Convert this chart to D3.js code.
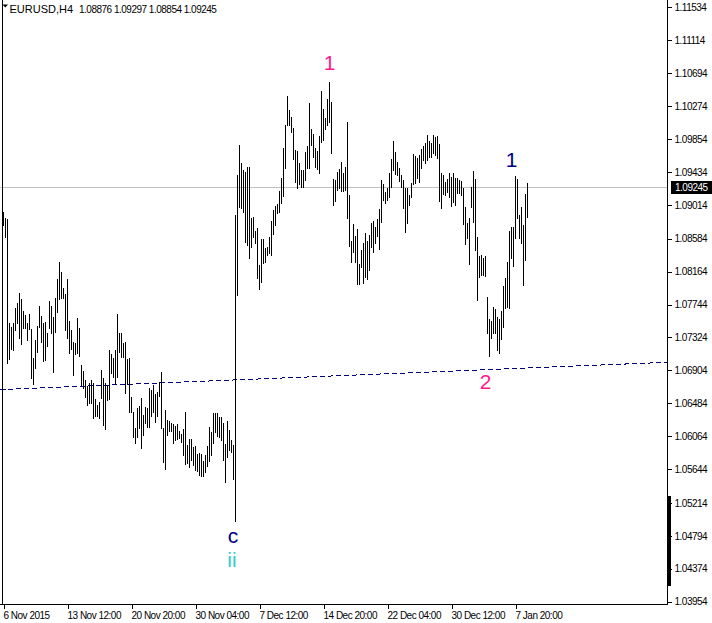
<!DOCTYPE html>
<html><head><meta charset="utf-8">
<script src="https://cdn.jsdelivr.net/npm/d3@7"></script>
<style>html,body{margin:0;padding:0;background:#fff;overflow:hidden}</style>
</head><body><div id="chart"></div>
<script>
// ---- data ----
const symbol = "EURUSD,H4";
const lastOHLC = ["1.08876", "1.09297", "1.08854", "1.09245"];
const highs = [
1.08924,1.08847,1.08834,1.07508,1.07457,1.07508,1.07699,1.07763,1.07891,1.07814,
1.07661,1.07610,1.07508,1.07623,1.07432,1.07062,1.07291,1.07470,1.07725,1.07597,
1.07508,1.07521,1.07381,1.07789,1.07725,1.07585,1.07827,1.08069,1.08286,1.08159,
1.07954,1.07878,1.08069,1.07534,1.07419,1.07266,1.07253,1.07572,1.07444,1.06973,
1.06896,1.06781,1.06705,1.06743,1.06781,1.06743,1.06539,1.06462,1.06501,1.06909,
1.06807,1.06743,1.06718,1.07164,1.07113,1.07062,1.07164,1.07623,1.07381,1.07381,
1.07253,1.07266,1.07049,1.07062,1.06564,1.06373,1.06169,1.06424,1.06450,1.06552,
1.06335,1.06437,1.06424,1.06679,1.06654,1.06718,1.06603,1.06628,1.06756,1.06883,
1.06169,1.06399,1.06271,1.06258,1.06233,1.06220,1.06195,1.06220,1.06131,1.06093,
1.06156,1.06373,1.05952,1.06029,1.06029,1.05927,1.05940,1.05838,1.05850,1.05838,
1.05748,1.05825,1.05940,1.06182,1.06118,1.06360,1.06360,1.06360,1.06309,1.06309,
1.06233,1.05965,1.06258,1.06144,1.06016,1.05952,1.08885,1.09395,1.09778,1.09548,
1.09459,1.09434,1.09497,1.09497,1.08847,1.08860,1.08681,1.08720,1.08248,1.08579,
1.08579,1.08465,1.08477,1.08605,1.08809,1.08949,1.09000,1.09026,1.09191,1.09357,
1.09740,1.10033,1.10403,1.10224,1.10135,1.09995,1.09714,1.09701,1.09548,1.09459,
1.09459,1.09689,1.09765,1.10314,1.09982,1.09918,1.09740,1.09701,1.09893,1.10467,
1.10237,1.10122,1.10365,1.10581,1.10326,1.09344,1.09332,1.09434,1.09472,1.09561,
1.09421,1.09497,1.10071,1.09140,1.08554,1.08771,1.08618,1.08707,1.08261,1.08439,
1.08528,1.08656,1.08554,1.08630,1.08783,1.08809,1.08732,1.08834,1.08962,1.09332,
1.09281,1.09179,1.09230,1.09421,1.09599,1.09829,1.09689,1.09561,1.09485,1.09395,
1.09332,1.09230,1.09230,1.09140,1.09293,1.09663,1.09638,1.09612,1.09650,1.09727,
1.09765,1.09804,1.09906,1.09829,1.09804,1.09906,1.09880,1.09893,1.09791,1.09421,
1.09395,1.09306,1.09344,1.09421,1.09370,1.09421,1.09357,1.09357,1.09332,1.09319,
1.09230,1.08987,1.08783,1.08847,1.09242,1.09446,1.09344,1.08605,1.08363,1.08375,
1.08337,1.08363,1.07840,1.07559,1.07534,1.07712,1.07687,1.07585,1.07559,1.07661,
1.07980,1.08082,1.08286,1.08681,1.08732,1.08732,1.09383,1.09344,1.08885,1.08987,
1.08758,1.09153,1.09297];
const lows = [
1.08758,1.08605,1.06998,1.07049,1.07177,1.07164,1.07419,1.07508,1.07317,1.07240,
1.07444,1.07444,1.07291,1.07432,1.06807,1.06730,1.06934,1.07138,1.07457,1.07266,
1.07024,1.07036,1.07215,1.07444,1.07381,1.06883,1.07393,1.07648,1.07814,1.07827,
1.07827,1.07419,1.07317,1.07126,1.07177,1.06845,1.07113,1.07126,1.07087,1.06718,
1.06679,1.06564,1.06462,1.06488,1.06488,1.06297,1.06322,1.06322,1.06297,1.06552,
1.06207,1.06156,1.06526,1.06539,1.06871,1.06820,1.06743,1.06820,1.07138,1.07075,
1.07075,1.06615,1.06730,1.06373,1.06373,1.06054,1.05978,1.06054,1.06169,1.05914,
1.06080,1.06233,1.06182,1.06182,1.06322,1.06373,1.06246,1.06322,1.06577,1.06169,
1.05736,1.05646,1.06080,1.06131,1.06131,1.05978,1.06016,1.06029,1.06042,1.05991,
1.05825,1.05710,1.05723,1.05672,1.05761,1.05697,1.05634,1.05621,1.05570,1.05557,
1.05557,1.05608,1.05685,1.05748,1.05825,1.05978,1.06118,1.06067,1.06054,1.06016,
1.05761,1.05481,1.05799,1.05889,1.05863,1.05519,1.04983,1.07865,1.08987,1.08975,
1.08924,1.08541,1.08503,1.08337,1.08477,1.08605,1.08528,1.08082,1.07942,1.08031,
1.08273,1.08286,1.08375,1.08401,1.08375,1.08643,1.08758,1.08911,1.08924,1.09038,
1.09128,1.09485,1.10033,1.10033,1.09944,1.09599,1.09306,1.09230,1.09281,1.09242,
1.09242,1.09332,1.09485,1.09485,1.09778,1.09625,1.09497,1.09472,1.09421,1.09816,
1.09842,1.09982,1.10033,1.10071,1.09676,1.09013,1.09064,1.09204,1.09230,1.09191,
1.09191,1.09204,1.08847,1.08490,1.08286,1.08414,1.08286,1.08005,1.08005,1.08222,
1.08018,1.08095,1.08069,1.08184,1.08477,1.08414,1.08528,1.08618,1.08452,1.08796,
1.09077,1.09038,1.09077,1.09115,1.09242,1.09459,1.09408,1.09395,1.09319,1.09242,
1.08975,1.08669,1.08783,1.09013,1.09115,1.09281,1.09293,1.09357,1.09306,1.09485,
1.09587,1.09548,1.09587,1.09625,1.09625,1.09676,1.09650,1.09612,1.09064,1.08975,
1.09153,1.09140,1.09179,1.09115,1.09000,1.09051,1.09013,1.09166,1.09166,1.09140,
1.08771,1.08516,1.08592,1.08261,1.08987,1.08796,1.08439,1.07801,1.08095,1.08120,
1.08120,1.08107,1.07381,1.07087,1.07317,1.07381,1.07381,1.07164,1.07126,1.07304,
1.07457,1.07699,1.07712,1.07699,1.08337,1.08235,1.08592,1.08847,1.08592,1.08528,
1.07993,1.08312,1.08854];
const timeLabels = ["6 Nov 2015", "13 Nov 12:00", "20 Nov 20:00", "30 Nov 04:00", "7 Dec 12:00",
  "14 Dec 20:00", "22 Dec 04:00", "30 Dec 12:00", "7 Jan 20:00"];
const timeLabelBars = [0, 32, 64, 96, 128, 160, 192, 224, 256];
const priceTicks = [1.11534, 1.11114, 1.10694, 1.10274, 1.09854, 1.09434, 1.09014, 1.08584, 1.08164,
  1.07744, 1.07324, 1.06904, 1.06484, 1.06064, 1.05644, 1.05214, 1.04794, 1.04374, 1.03954];
const bidPrice = 1.09245;
const trendBars = [-1.5, 332];
const trendPrices = [1.06660, 1.07007];
const waveText = ["1", "1", "2", "c", "ii"];
const waveBars = [163, 254, 241, 114.75, 114.25];
const wavePrices = [1.10734, 1.09497, 1.06666, 1.04703, 1.04397];
const waveColors = ["#ff1a8c", "#000080", "#ff1a8c", "#000080", "#33cccc"];

// ---- layout ----
const W = 712, H = 623, plotR = 667, plotB = 604;
const svg = d3.select("#chart").append("svg").attr("width", W).attr("height", H)
  .style("display", "block").style("background", "#fff");
const x = d3.scaleLinear().domain([0, highs.length - 1]).range([3.5, 3.5 + 2 * (highs.length - 1)]);
const y = d3.scaleLinear().domain([1.11534, 1.03954]).range([7.3, 601.7]);

const font = "'Liberation Sans', Arial, sans-serif";

// current price line
svg.append("line").attr("x1", 0).attr("x2", plotR).attr("y1", Math.round(y(bidPrice)) + 0.5)
  .attr("y2", Math.round(y(bidPrice)) + 0.5).attr("stroke", "#c0c0c0").attr("stroke-width", 1);

// trendline
svg.append("line").attr("x1", x(trendBars[0])).attr("x2", x(trendBars[1]))
  .attr("y1", y(trendPrices[0])).attr("y2", y(trendPrices[1]))
  .attr("stroke", "#000080").attr("stroke-width", 1).attr("stroke-dasharray", "5,3")
  .attr("shape-rendering", "crispEdges");

// bars
svg.append("g").selectAll("line").data(highs).join("line")
  .attr("x1", (d, i) => x(i)).attr("x2", (d, i) => x(i))
  .attr("y1", d => Math.round(y(d)))
  .attr("y2", (d, i) => Math.round(y(lows[i])) + 1)
  .attr("stroke", "#000").attr("stroke-width", 1).attr("shape-rendering", "crispEdges");

// frame
svg.append("line").attr("x1", 2.5).attr("x2", 2.5).attr("y1", 0).attr("y2", plotB)
  .attr("stroke", "#000").attr("shape-rendering", "crispEdges");
svg.append("line").attr("x1", plotR + 0.5).attr("x2", plotR + 0.5).attr("y1", 0).attr("y2", plotB + 1)
  .attr("stroke", "#000").attr("shape-rendering", "crispEdges");
svg.append("line").attr("x1", 0).attr("x2", plotR + 1).attr("y1", plotB + 0.5).attr("y2", plotB + 0.5)
  .attr("stroke", "#000").attr("shape-rendering", "crispEdges");

// right axis
const ya = svg.append("g").attr("transform", `translate(${plotR + 0.5},0)`)
  .call(d3.axisRight(y).tickValues(priceTicks).tickFormat(d3.format(".5f")).tickSize(4).tickPadding(3));
ya.select(".domain").remove();
ya.selectAll("line").attr("stroke", "#000").attr("shape-rendering", "crispEdges");
ya.selectAll("text").attr("font-family", font).attr("font-size", 10).attr("fill", "#000")
  .attr("letter-spacing", "-0.5px");

// bottom axis
const xa = svg.append("g").attr("transform", `translate(0,${plotB + 0.5})`)
  .call(d3.axisBottom(x).tickValues(timeLabelBars).tickFormat((d, i) => timeLabels[i]).tickSize(4));
xa.select(".domain").remove();
xa.selectAll("line").attr("stroke", "#000").attr("shape-rendering", "crispEdges");
xa.selectAll("text").attr("font-family", font).attr("font-size", 10).attr("fill", "#000")
  .attr("letter-spacing", "-0.5px").attr("text-anchor", "start").attr("x", -0.5).attr("y", 14).attr("dy", 0);

// scroll marker on axis
svg.append("rect").attr("x", plotR).attr("y", 496).attr("width", 4).attr("height", 90).attr("fill", "#000");

// bid label
const by = Math.round(y(bidPrice));
svg.append("rect").attr("x", 671).attr("y", by - 6).attr("width", 41).attr("height", 13).attr("fill", "#000");
svg.append("text").attr("x", 675).attr("y", by + 4).text(d3.format(".5f")(bidPrice))
  .attr("font-family", font).attr("font-size", 10).attr("fill", "#fff").attr("letter-spacing", "-0.5px");

// title
svg.append("path").attr("d", "M2.5,4.5 L8,4.5 L5.25,7.5 Z").attr("fill", "#000");
svg.append("text").attr("x", 9.5).attr("y", 12.5).text(symbol)
  .attr("font-family", font).attr("font-size", 11).attr("fill", "#000");
svg.append("text").attr("x", 79).attr("y", 12.5).text(lastOHLC.join(" "))
  .attr("font-family", font).attr("font-size", 10).attr("fill", "#000").attr("letter-spacing", "-0.5px");

// wave labels
svg.append("g").selectAll("text").data(waveText).join("text")
  .attr("x", (d, i) => x(waveBars[i])).attr("y", (d, i) => y(wavePrices[i]))
  .attr("text-anchor", "middle").attr("font-family", font).attr("font-size", 21)
  .attr("fill", (d, i) => waveColors[i]).text(d => d);
</script>
</body></html>
